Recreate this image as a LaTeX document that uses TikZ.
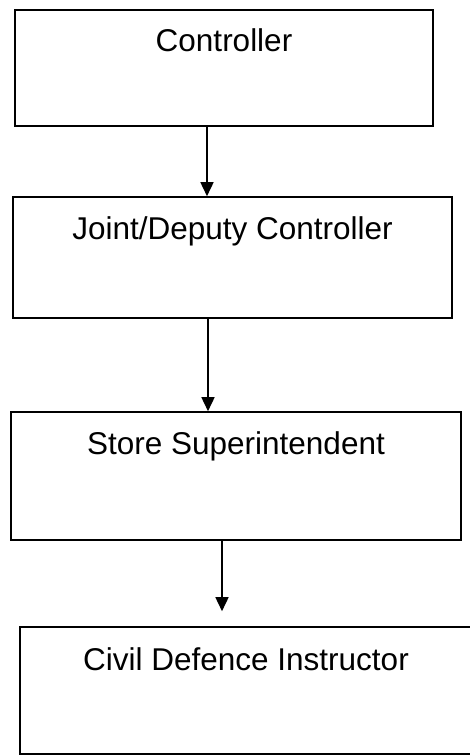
\documentclass[tikz,border=0pt]{standalone}
\usepackage{fontspec}
\setmainfont{Liberation Sans}
\usetikzlibrary{arrows.meta}

\begin{document}
\begin{tikzpicture}[x=1pt,y=-1pt,
    post/.style={rectangle, draw, line width=1.6pt, inner sep=0pt, font=\fontsize{31.5}{38}\selectfont},
    link/.style={line width=1.6pt, -{Triangle[length=14pt,width=13pt]}}]
    \useasboundingbox (0,0) rectangle (470,756);
    \node [post, minimum width=418pt, text height=41pt, text depth=75pt] (ctrl) at (224,68) {Controller};
    \node [post, minimum width=439pt, text height=42pt, text depth=79pt] (deputy) at (232.5,257.5) {Joint/Deputy Controller};
    \node [post, minimum width=450pt, text height=42pt, text depth=86pt] (store) at (236,476) {Store Superintendent};
    \node [post, minimum width=452pt, text height=43pt, text depth=84pt] (civil) at (246,690.5) {Civil Defence Instructor};
    \draw [link] ([xshift=-17pt]ctrl.south) -- ([xshift=-25.5pt]deputy.north);
    \draw [link] ([xshift=-24.5pt]deputy.south) -- ([xshift=-28pt]store.north);
    \draw [link] ([xshift=-14pt]store.south) -- ([xshift=-24pt,yshift=15pt]civil.north);
\end{tikzpicture}
\end{document}
